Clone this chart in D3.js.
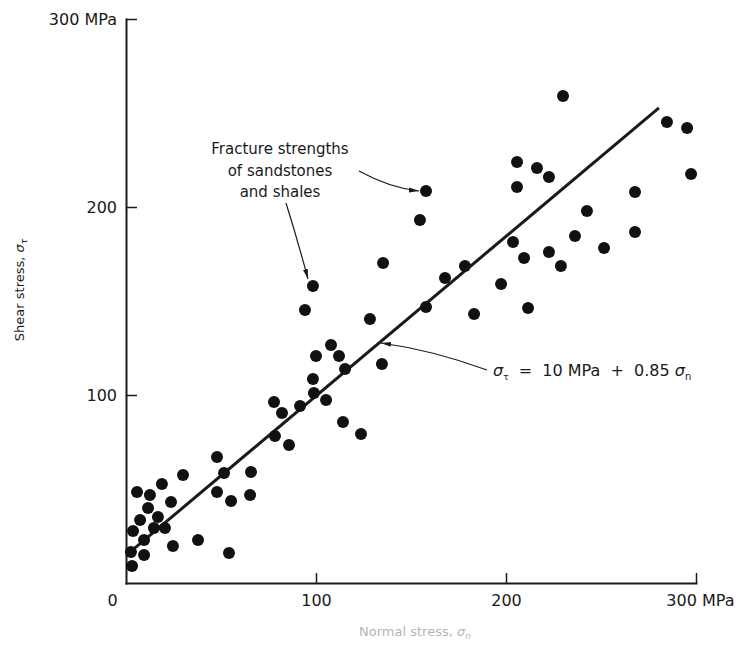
<!DOCTYPE html>
<html>
<head>
<meta charset="utf-8">
<script src="https://cdn.jsdelivr.net/npm/d3@7"></script>
<style>
  body { margin: 0; background: #fff; }
  svg text { font-family: "DejaVu Sans", sans-serif; fill: #1a1a1a; }
</style>
</head>
<body>
<svg id="chart" width="736" height="646"></svg>
<script>
// normal stress (MPa) and shear stress (MPa)
var normalStress = [3.2, 2.6, 9.5, 9.5, 3.7, 14.7, 20.5, 16.8, 7.4, 11.6, 23.7, 5.8, 12.6, 18.9, 24.7, 37.9, 54.2,
  30.0, 51.6, 65.8, 47.9, 47.9, 55.3, 65.3, 77.9, 91.6, 82.1, 105.3, 114.2, 123.7, 78.4, 85.8, 98.4, 98.9, 115.3,
  100.0, 112.1, 107.9, 134.7, 128.4, 94.2, 98.4, 135.3, 154.7, 157.9, 157.9, 167.9, 178.4, 183.2, 197.4, 211.6,
  203.7, 209.5, 222.6, 228.9, 236.3, 242.6, 251.6, 267.9, 267.9, 205.8, 205.8, 216.3, 222.6, 230.0, 284.7, 295.3, 297.4];
var shearStress = [9.0, 16.5, 14.9, 22.9, 27.7, 29.3, 29.3, 35.1, 33.5, 39.9, 43.1, 48.4, 46.8, 52.7, 19.7, 22.9, 16.0,
  57.4, 58.5, 59.0, 67.0, 48.4, 43.6, 46.8, 96.3, 94.1, 90.4, 97.3, 85.6, 79.3, 78.2, 73.4, 108.5, 101.1, 113.8,
  120.7, 120.7, 126.6, 116.5, 140.4, 145.2, 158.0, 170.2, 193.1, 208.5, 146.8, 162.2, 168.6, 143.1, 159.0, 146.3,
  181.4, 172.9, 176.1, 168.6, 184.6, 197.9, 178.2, 186.7, 208.0, 210.6, 223.9, 220.7, 216.0, 259.0, 245.2, 242.0, 217.6];

// ends of the fitted line  (sigma_t = 10 MPa + 0.85 sigma_n as drawn)
var fitNormal = [3, 280.5];
var fitShear = [17.2, 252.7];

var xTicks = [0, 100, 200, 300];
var yTicks = [100, 200, 300];

var svg = d3.select("#chart");
var ink = "#1a1a1a";

var x = d3.scaleLinear().domain([0, 300]).range([126, 696]);
var y = d3.scaleLinear().domain([0, 300]).range([583, 19]);

// arrow head
svg.append("defs").append("marker")
  .attr("id", "arrow")
  .attr("viewBox", "0 0 10 6")
  .attr("refX", 10).attr("refY", 3)
  .attr("markerUnits", "userSpaceOnUse")
  .attr("markerWidth", 10).attr("markerHeight", 6)
  .attr("orient", "auto")
  .append("path")
  .attr("d", "M0,0.5 L10,3 L0,5.5 Z")
  .attr("fill", ink);

// axes
var xAxis = svg.append("g")
  .attr("transform", "translate(0,583)")
  .call(d3.axisBottom(x).tickValues(xTicks).tickSizeInner(-10).tickSizeOuter(0).tickPadding(12)
    .tickFormat(d => d === 300 ? "300 MPa" : d));

var yAxis = svg.append("g")
  .attr("transform", "translate(126,0)")
  .call(d3.axisLeft(y).tickValues(yTicks).tickSizeInner(-11).tickSizeOuter(0).tickPadding(9)
    .tickFormat(d => d === 300 ? "300 MPa" : d));

[xAxis, yAxis].forEach(function(g) {
  g.attr("font-family", null).attr("font-size", 16);
  g.select(".domain").attr("stroke", ink).attr("stroke-width", 2).attr("stroke-linecap", "square");
  g.selectAll(".tick line").attr("stroke", ink).attr("stroke-width", 1.5);
  g.selectAll(".tick text").attr("fill", ink);
});
xAxis.selectAll(".tick").filter(d => d === 0).select("line").remove();
xAxis.selectAll(".tick text").filter(d => d === 0).attr("dx", -14);
xAxis.selectAll(".tick text").filter(d => d === 300).attr("text-anchor", "end").attr("x", 38);

// axis titles
svg.append("text")
  .attr("transform", "translate(24,290) rotate(-90)")
  .attr("text-anchor", "middle")
  .attr("font-size", 13)
  .text("Shear stress, ")
  .append("tspan").attr("font-style", "italic").text("σ")
  .append("tspan").attr("font-size", 9).attr("dy", 3).text("τ");

svg.append("text")
  .attr("x", 415).attr("y", 636)
  .attr("text-anchor", "middle")
  .attr("font-size", 13)
  .style("fill", "#b5b5b5")
  .text("Normal stress, ")
  .append("tspan").attr("font-style", "italic").text("σ")
  .append("tspan").attr("font-size", 9).attr("dy", 3).text("n");

// fitted line
svg.append("path")
  .datum(d3.zip(fitNormal, fitShear))
  .attr("d", d3.line().x(d => x(d[0])).y(d => y(d[1])))
  .attr("fill", "none")
  .attr("stroke", ink)
  .attr("stroke-width", 3);

// data points
svg.append("g")
  .selectAll("circle")
  .data(d3.zip(normalStress, shearStress))
  .join("circle")
  .attr("cx", d => x(d[0]))
  .attr("cy", d => y(d[1]))
  .attr("r", 6)
  .attr("fill", "#111");

// annotation: fracture strengths
var note = svg.append("text")
  .attr("text-anchor", "middle")
  .attr("font-size", 15);
["Fracture strengths", "of sandstones", "and shales"].forEach(function(s, i) {
  note.append("tspan").attr("x", 280).attr("y", 154 + i * 21.5).text(s);
});

var arrows = [
  "M359,171 Q390,188 419,191",
  "M286,203 Q297,238 308,279",
  "M487,370 Q432,350 381,343"
];
svg.append("g").selectAll("path")
  .data(arrows)
  .join("path")
  .attr("d", d => d)
  .attr("fill", "none")
  .attr("stroke", ink)
  .attr("stroke-width", 1.2)
  .attr("marker-end", "url(#arrow)");

// equation label
var eq = svg.append("text").attr("x", 493).attr("y", 376).attr("font-size", 16);
eq.append("tspan").attr("font-style", "italic").text("σ");
eq.append("tspan").attr("font-size", 9).attr("dy", 4).text("τ");
eq.append("tspan").attr("dy", -4).attr("xml:space", "preserve").text("  =  10 MPa  +  0.85 ");
eq.append("tspan").attr("font-style", "italic").text("σ");
eq.append("tspan").attr("font-size", 10).attr("dy", 4).text("n");
</script>
</body>
</html>
